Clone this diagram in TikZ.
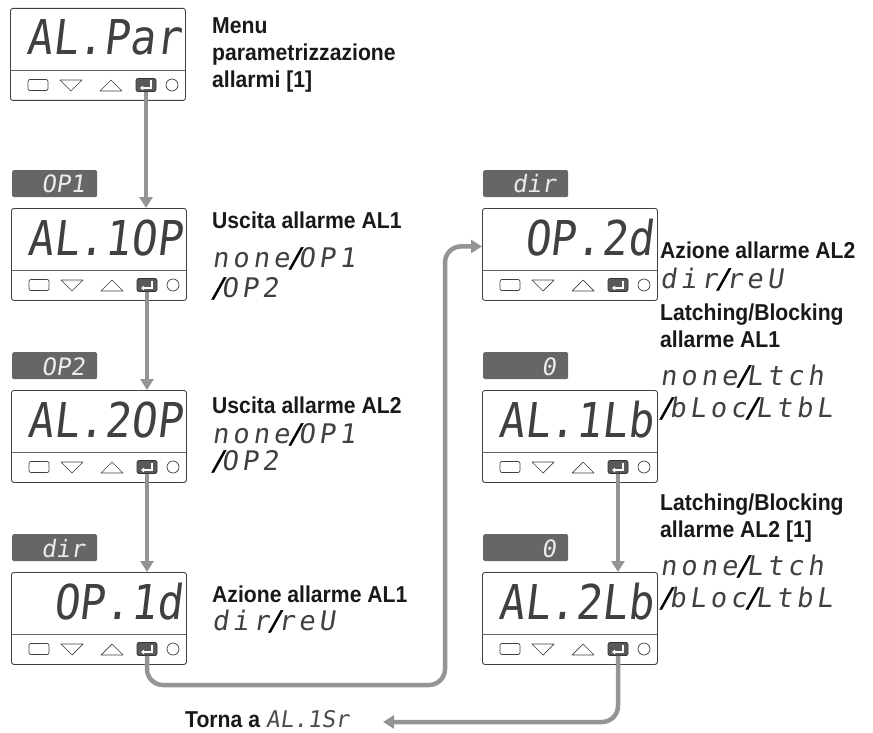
\documentclass[tikz,border=0pt]{standalone}
\usepackage{fontspec}
\usetikzlibrary{arrows.meta}
\newfontfamily\labelfont[FakeStretch=0.92]{Liberation Sans}
\newfontfamily\segfont[FakeSlant=0.15]{DejaVu Sans Mono}
\newfontfamily\segwide[FakeSlant=0.15,LetterSpace=15]{DejaVu Sans Mono}
\newfontfamily\segnarrow[FakeSlant=0.12,FakeStretch=0.89]{DejaVu Sans Mono}
\newfontfamily\slashfont[FakeSlant=0.25,FakeBold=1.5]{DejaVu Sans}
\newcommand{\slsh}{{\slashfont\color{black}/}}

% one instrument front panel: name, left, top, display text
\newcommand{\panel}[4]{%
  \node[panel] (#1) at (#2,#3) {};
  \draw[panelsep] ({#2},{#3+62}) -- ({#2+175},{#3+62});
  \node[display] (#1-disp) at ({#2+171},{#3+47}) {#4};
  \node[keyrect] (#1-menu) at ({#2+28},{#3+77}) {};
  \draw[keyline] ({#2+50},{#3+72}) -- ({#2+72},{#3+72}) -- ({#2+61},{#3+83}) -- cycle;
  \draw[keyline] ({#2+90},{#3+83}) -- ({#2+112},{#3+83}) -- ({#2+101},{#3+72}) -- cycle;
  \node[keyenter] (#1-enter) at ({#2+136},{#3+77}) {};
  \draw[white, line width=1.1pt, -{Triangle[length=3pt,width=4.5pt]}] ({#2+141},{#3+72.5}) -- ({#2+141},{#3+80}) -- ({#2+130},{#3+80});
  \node[keyled] (#1-led) at ({#2+162},{#3+77}) {};
}
% grey value strip above a panel
\newcommand{\paneltag}[4]{%
  \node[tag] (#1) at ({#2+1},{#3-38}) {};
  \node[tagtext] (#1-val) at ({#2+74},{#3-15}) {#4};
}

\begin{document}
\begin{tikzpicture}[x=1pt,y=-1pt,
  panel/.style={draw=black!75, line width=0.9pt, rounded corners=2.5pt, minimum width=175pt, minimum height=92pt, inner sep=0pt, anchor=north west},
  panelsep/.style={draw=black!60, line width=0.7pt},
  display/.style={anchor=base east, inner sep=0pt, font=\segnarrow\fontsize{48}{48}\selectfont, text=black!75},
  keyline/.style={draw=black!75, line width=0.7pt, line join=round},
  keyrect/.style={keyline, rounded corners=2pt, minimum width=20pt, minimum height=11pt, inner sep=0pt},
  keyenter/.style={draw=black!80, fill=black!65, line width=0.7pt, rounded corners=2pt, minimum width=20pt, minimum height=13pt, inner sep=0pt},
  keyled/.style={keyline, circle, minimum size=12pt, inner sep=0pt},
  tag/.style={fill=black!60, rounded corners=1.5pt, minimum width=85pt, minimum height=27pt, inner sep=0pt, anchor=north west},
  tagtext/.style={anchor=base east, inner sep=0pt, font=\segfont\fontsize{24}{24}\selectfont, text=black!8},
  desc/.style={anchor=base west, inner sep=0pt, font=\labelfont\bfseries\fontsize{23}{27}\selectfont, text=black!90},
  opt/.style={anchor=base west, inner sep=0pt, font=\segwide\fontsize{27}{27}\selectfont, text=black!75},
  flow/.style={draw=black!42, line width=4.5pt, -{Triangle[length=11pt,width=13pt]}}]
\useasboundingbox (0,0) rectangle (873,733);

% left column
\panel{p1}{10}{8}{AL.Par}
\panel{p2}{11}{208}{AL.1OP}
\paneltag{t2}{11}{208}{OP1}
\panel{p3}{11}{390}{AL.2OP}
\paneltag{t3}{11}{390}{OP2}
\panel{p4}{11}{572}{OP.1d}
\paneltag{t4}{11}{572}{dir}

% right column
\panel{q1}{482}{208}{OP.2d}
\paneltag{u1}{482}{208}{dir}
\panel{q2}{482}{390}{AL.1Lb}
\paneltag{u2}{482}{390}{0}
\panel{q3}{482}{572}{AL.2Lb}
\paneltag{u3}{482}{572}{0}

% descriptions
\node[desc] (m1) at (212,34) {Menu};
\node[desc] (m2) at (212,61) {parametrizzazione};
\node[desc] (m3) at (212,88) {allarmi [1]};
\node[desc] (d2) at (212,228) {Uscita allarme AL1};
\node[opt] (d2a) at (212,267) {none\slsh OP1};
\node[opt] (d2b) at (212,297) {\slsh OP2};
\node[desc] (d3) at (212,413) {Uscita allarme AL2};
\node[opt] (d3a) at (212,443) {none\slsh OP1};
\node[opt] (d3b) at (212,470) {\slsh OP2};
\node[desc] (d4) at (212,602) {Azione allarme AL1};
\node[opt] (d4a) at (212,630) {dir\slsh reU};
\node[desc] (e1) at (660,258) {Azione allarme AL2};
\node[opt] (e1a) at (660,288) {dir\slsh reU};
\node[desc] (e2) at (660,320) {Latching/Blocking};
\node[desc] (e2b) at (660,347) {allarme AL1};
\node[opt] (e2c) at (660,385) {none\slsh Ltch};
\node[opt] (e2d) at (660,417) {\slsh bLoc\slsh LtbL};
\node[desc] (e3) at (660,510) {Latching/Blocking};
\node[desc] (e3b) at (660,537) {allarme AL2 [1]};
\node[opt] (e3c) at (660,575) {none\slsh Ltch};
\node[opt] (e3d) at (660,607) {\slsh bLoc\slsh LtbL};
\node[desc] (back) at (185,727) {Torna a {\segfont\mdseries\color{black!70}AL.1Sr}};

% connectors
\coordinate (loop) at (445,685);
\coordinate (backtip) at (383,722);
\draw[flow] (p1-enter.south) -- (p1-enter.south |- p2.north);
\draw[flow] (p2-enter.south) -- (p2-enter.south |- p3.north);
\draw[flow] (p3-enter.south) -- (p3-enter.south |- p4.north);
\draw[flow, rounded corners=16pt] (p4-enter.south) |- (loop) |- ([yshift=8pt]q1.west);
\draw[flow] (q2-enter.south) -- (q2-enter.south |- q3.north);
\draw[flow, rounded corners=16pt] (q3-enter.south) |- (backtip);
\end{tikzpicture}
\end{document}
